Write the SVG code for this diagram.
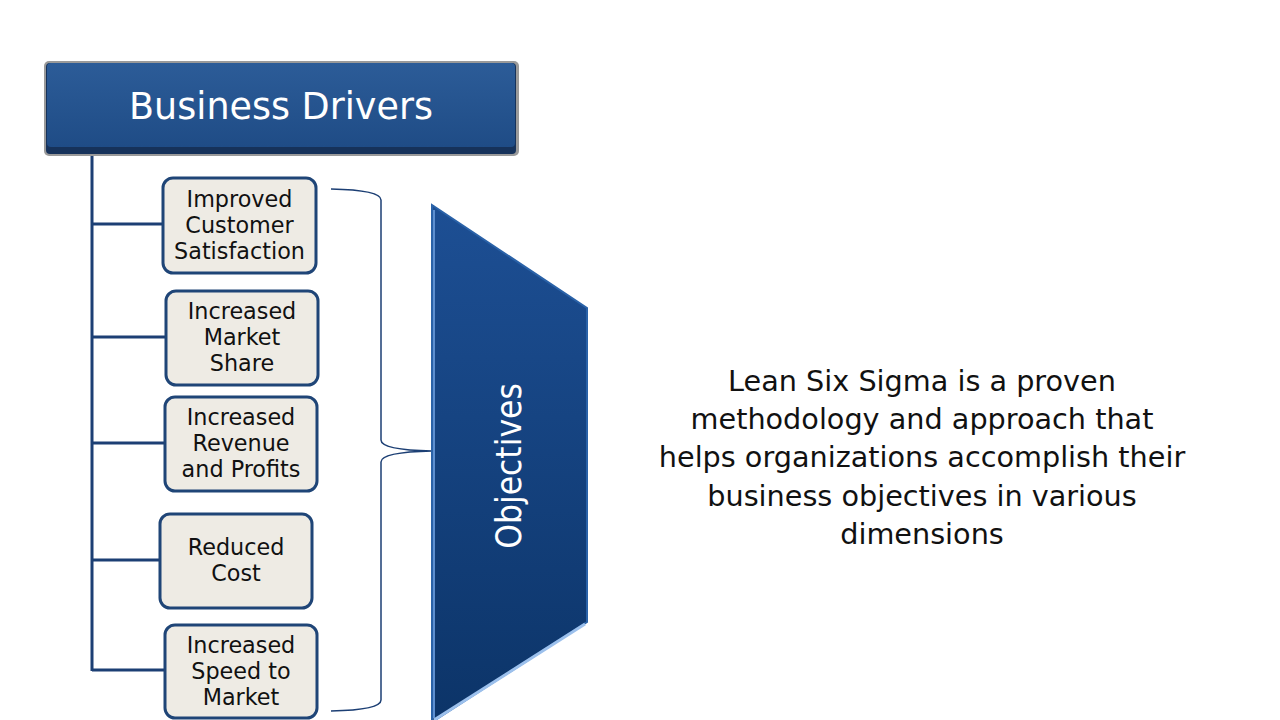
<svg xmlns="http://www.w3.org/2000/svg" width="1280" height="720" viewBox="0 0 1280 720">
<defs>
<linearGradient id="hdr" x1="0" y1="0" x2="0" y2="1">
<stop offset="0" stop-color="#2c5c98"/>
<stop offset="1" stop-color="#1f4c86"/>
</linearGradient>
<linearGradient id="obj" x1="0" y1="0" x2="0" y2="1">
<stop offset="0" stop-color="#1d4f94"/>
<stop offset="1" stop-color="#0c3468"/>
</linearGradient>
<style>
.box{fill:#eeebe4;stroke:#1f4577;stroke-width:3}
.bt{font-family:"DejaVu Sans",sans-serif;font-size:22.3px;fill:#111;text-anchor:middle}
.ln{stroke:#1c3f74;stroke-width:3;fill:none}
.br{stroke:#1c3f74;stroke-width:1.5;fill:none}
.main{font-family:"DejaVu Sans",sans-serif;font-size:28.7px;fill:#111;text-anchor:middle}
</style>
</defs>
<rect width="1280" height="720" fill="#ffffff"/>
<g id="connectors">
<path class="ln" d="M92,155 V671 M92,224 H163 M92,337 H166 M92,443 H165 M92,560 H160 M92,670 H165"/>
<path class="br" d="M331,189 Q381,190 381,200 V440 Q381,450 432,451 Q381,452 381,462 V700 Q381,710 331,711"/>
</g>
<g id="header">
<rect x="44" y="61" width="475" height="95" rx="5" fill="#9a9a9a"/>
<rect x="46" y="63" width="470" height="91" rx="4" fill="#16325a"/>
<rect x="47" y="63" width="468" height="84" rx="4" fill="url(#hdr)"/>
<text x="281" y="119" font-family="DejaVu Sans,sans-serif" font-size="36.5" fill="#ffffff" text-anchor="middle">Business Drivers</text>
</g>
<g id="n1">
<rect class="box" x="163" y="178" width="153" height="95" rx="10"/>
<text class="bt" x="239.5" y="207">Improved</text>
<text class="bt" x="239.5" y="233">Customer</text>
<text class="bt" x="239.5" y="259">Satisfaction</text>
</g>
<g id="n2">
<rect class="box" x="166" y="291" width="152" height="94" rx="10"/>
<text class="bt" x="242" y="319">Increased</text>
<text class="bt" x="242" y="345">Market</text>
<text class="bt" x="242" y="371">Share</text>
</g>
<g id="n3">
<rect class="box" x="165" y="397" width="152" height="94" rx="10"/>
<text class="bt" x="241" y="425">Increased</text>
<text class="bt" x="241" y="451">Revenue</text>
<text class="bt" x="241" y="477">and Profits</text>
</g>
<g id="n4">
<rect class="box" x="160" y="514" width="152" height="94" rx="10"/>
<text class="bt" x="236" y="555">Reduced</text>
<text class="bt" x="236" y="581">Cost</text>
</g>
<g id="n5">
<rect class="box" x="165" y="625" width="152" height="93" rx="10"/>
<text class="bt" x="241" y="653">Increased</text>
<text class="bt" x="241" y="679">Speed to</text>
<text class="bt" x="241" y="705">Market</text>
</g>
<g id="objectives">
<polygon points="432,205 587,308 587,622 432,722" fill="url(#obj)" stroke="#2a62a8" stroke-width="2"/>
<path d="M434,210 V718" stroke="#5d8fd0" stroke-width="2" fill="none"/>
<path d="M585,624 L434,720" stroke="#9cc0ec" stroke-width="3" fill="none"/>
<text transform="translate(521,466) rotate(-90)" font-family="DejaVu Sans Condensed,DejaVu Sans,sans-serif" font-size="35" fill="#ffffff" text-anchor="middle">Objectives</text>
</g>
<g id="description">
<text class="main" x="922" y="391">Lean Six Sigma is a proven</text>
<text class="main" x="922" y="429">methodology and approach that</text>
<text class="main" x="922" y="467">helps organizations accomplish their</text>
<text class="main" x="922" y="506">business objectives in various</text>
<text class="main" x="922" y="544">dimensions</text>
</g>
</svg>
